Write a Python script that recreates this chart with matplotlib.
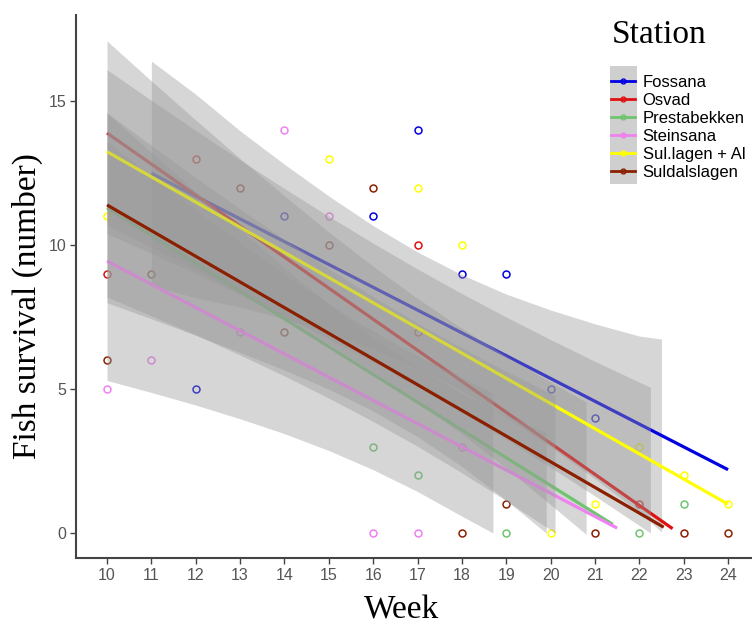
import numpy as np
import matplotlib.pyplot as plt
from matplotlib.patches import Rectangle
from matplotlib.lines import Line2D

stations = ["Fossana", "Osvad", "Prestabekken", "Steinsana", "Sul.lagen + Al", "Suldalslagen"]
colors = ["#0000e0", "#e01010", "#70c470", "#ee82ee", "#ffff00", "#8b2000"]

# observed points (week, fish)
pts_week = {
    "Fossana":        [12, 14, 16, 17, 18, 19, 20, 21],
    "Osvad":          [10, 12, 17, 17, 22],
    "Prestabekken":   [16, 17, 19, 22, 23],
    "Steinsana":      [10, 11, 13, 14, 15, 16, 17, 18],
    "Sul.lagen + Al": [10, 15, 17, 18, 20, 21, 22, 23, 24],
    "Suldalslagen":   [10, 11, 13, 14, 15, 16, 18, 19, 21, 23, 24],
}
pts_fish = {
    "Fossana":        [5, 11, 11, 14, 9, 9, 5, 4],
    "Osvad":          [9, 13, 10, 7, 1],
    "Prestabekken":   [3, 2, 0, 0, 1],
    "Steinsana":      [5, 6, 7, 14, 11, 0, 0, 3],
    "Sul.lagen + Al": [11, 13, 12, 10, 0, 1, 3, 2, 1],
    "Suldalslagen":   [6, 9, 12, 7, 10, 12, 0, 1, 0, 0, 0],
}

# fitted lines: start/end
line_x0 = [11, 10, 10, 10, 10, 10]
line_y0 = [12.5, 13.9, 11.3, 9.45, 13.25, 11.4]
line_x1 = [24, 22.75, 21.4, 21.5, 24, 22.55]
line_y1 = [2.2, 0.15, 0.3, 0.17, 1.0, 0.2]

# confidence ribbon: weeks and half widths
rib_weeks = [
    [11, 12, 13, 14, 15, 16, 17, 18, 19, 20, 21, 22, 22.5],
    [10, 11, 12, 13, 14, 15, 16, 17, 18, 19, 20, 20.8],
    [10, 11, 12, 13, 14, 15, 16, 17, 18, 19, 19.9],
    [10, 11, 12, 13, 14, 15, 16, 17, 18, 18.7],
    [10, 11, 12, 13, 14, 15, 16, 17, 18, 19, 20, 21, 22, 22.25],
    [10, 11, 12, 13, 14, 15, 16, 17, 18, 19, 20, 20.1],
]
rib_hw = [
    [3.90, 3.54, 3.06, 2.69, 2.38, 2.14, 2.02, 2.02, 2.14, 2.38, 2.69, 3.06, 3.35],
    [3.20, 2.89, 2.61, 2.35, 2.13, 1.95, 1.84, 1.80, 1.84, 1.95, 2.13, 2.30],
    [3.30, 2.89, 2.50, 2.13, 1.78, 1.48, 1.27, 1.20, 1.27, 1.48, 1.75],
    [4.15, 3.76, 3.39, 3.06, 2.77, 2.55, 2.41, 2.36, 2.41, 2.43],
    [2.85, 2.66, 2.49, 2.34, 2.22, 2.13, 2.07, 2.05, 2.07, 2.13, 2.22, 2.34, 2.49, 2.53],
    [3.20, 2.96, 2.73, 2.54, 2.37, 2.25, 2.17, 2.14, 2.17, 2.25, 2.37, 2.39],
]

week_ticks = list(range(10, 25))
fish_ticks = [0, 5, 10, 15]

fig = plt.figure(figsize=(7.52, 6.26), dpi=100)
ax = fig.add_axes([0.101, 0.1086, 0.899, 0.8674])

for name, c in zip(stations, colors):
    ax.plot(pts_week[name], pts_fish[name], 'o', mfc='none', mec=c, ms=5, mew=1.1, zorder=2)

for i, c in enumerate(colors):
    wk = np.array(rib_weeks[i])
    fit = np.interp(wk, [line_x0[i], line_x1[i]], [line_y0[i], line_y1[i]])
    hw = np.array(rib_hw[i])
    z = 3 + i * 2
    ax.fill_between(wk, fit - hw, fit + hw, color='#999999', alpha=0.4, lw=0, zorder=z)
    ax.plot([line_x0[i], line_x1[i]], [line_y0[i], line_y1[i]], color=c, lw=2.3, zorder=z + 1,
            solid_capstyle='butt')

ax.set_xlim(9.30, 24.54)
ax.set_ylim(-0.87, 18.0)
ax.set_xticks(week_ticks)
ax.set_yticks(fish_ticks)
for s in ['top', 'right']:
    ax.spines[s].set_visible(False)
for s in ['left', 'bottom']:
    ax.spines[s].set_color('#444444')
    ax.spines[s].set_linewidth(1.5)
ax.tick_params(direction='out', length=4, width=1, color='#444444', labelcolor='#555555',
               labelsize=11.5, pad=3)
for lab in ax.get_xticklabels() + ax.get_yticklabels():
    lab.set_fontfamily('Liberation Sans')

ax.set_xlabel("Week", fontsize=24, family='Liberation Serif')
ax.set_ylabel("Fish survival (number)", fontsize=24, family='Liberation Serif')
ax.xaxis.set_label_coords(0.481, -0.068)
ax.yaxis.set_label_coords(-0.049, 0.464)

# legend: title, grey key column, entries
fig.text(612 / 752, 1 - 35 / 626, "Station", fontsize=24, family='Liberation Serif',
         ha='left', va='center')
fig.patches.append(Rectangle((610 / 752, 1 - 184 / 626), 27 / 752, 118 / 626,
                             transform=fig.transFigure, facecolor='#cfcfcf',
                             edgecolor='none', zorder=0))

handles = [Line2D([], [], color=c, lw=2, marker='o', mfc='none', mec=c, ms=3.5) for c in colors]
leg = fig.legend(handles, stations, loc='upper left', bbox_to_anchor=(0.8126, 1 - 75 / 626),
                 frameon=False, handlelength=1.45,
                 labelspacing=0.18, handletextpad=0.45, borderaxespad=0, borderpad=0,
                 prop={'family': 'Liberation Sans', 'size': 12})
leg.set_zorder(5)

fig.savefig("out.png", dpi=100)
